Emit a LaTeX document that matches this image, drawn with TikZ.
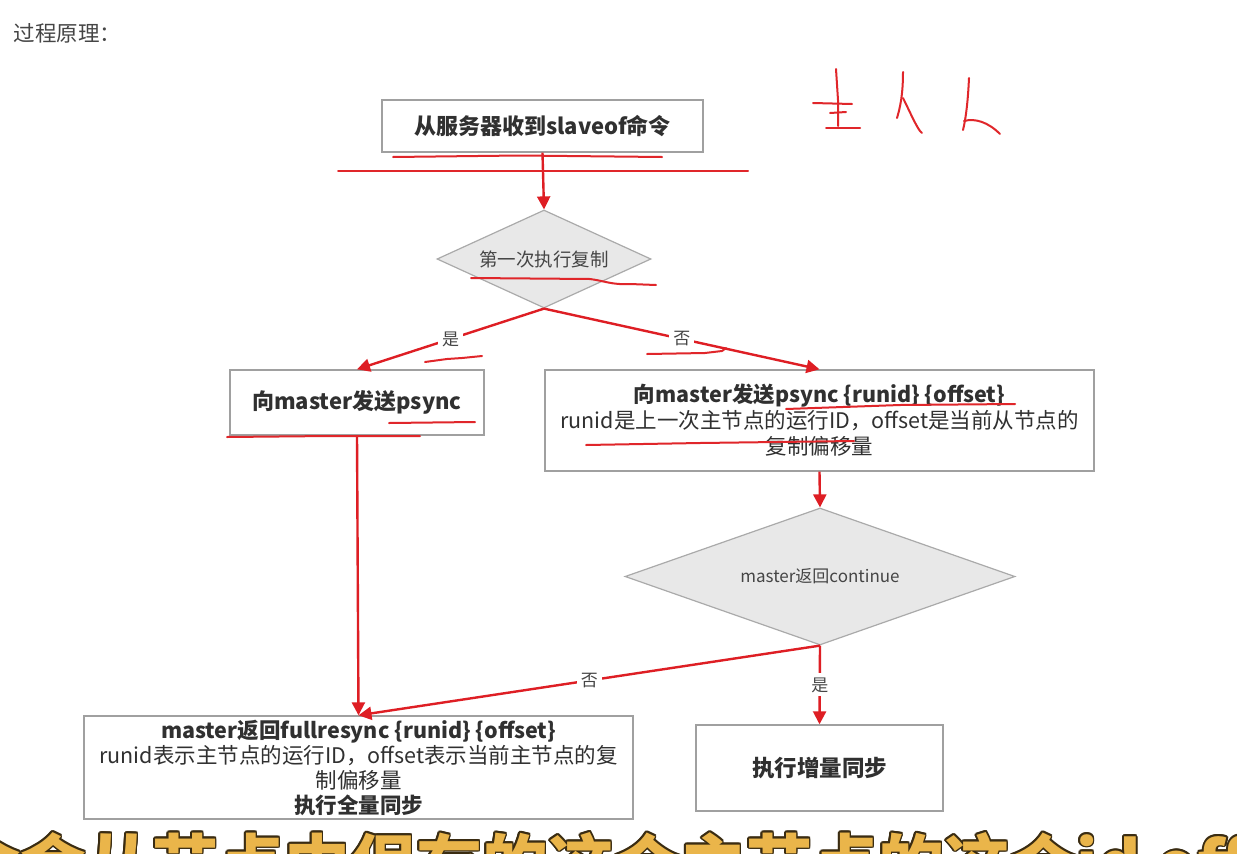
\documentclass[tikz,border=0pt]{standalone}
\usepackage{fontspec}
\setmainfont{Noto Sans CJK SC}
\usetikzlibrary{arrows.meta,shapes.geometric}

\definecolor{flowred}{HTML}{DE1E24}
\definecolor{inkred}{HTML}{E0262A}
\definecolor{boxline}{HTML}{A0A0A0}
\definecolor{diafill}{HTML}{E8E8E8}
\definecolor{dialine}{HTML}{AAAAAA}
\definecolor{txtdark}{HTML}{303030}
\definecolor{txtmid}{HTML}{454545}
\definecolor{subfill}{HTML}{EAB54A}
\definecolor{subedge}{HTML}{3A2C12}

\tikzset{
  box/.style={draw=boxline, line width=1.4pt, fill=white, inner sep=0pt,
    align=center, text=txtdark},
  decision/.style={diamond, aspect=2, draw=dialine, line width=1.2pt,
    fill=diafill, inner sep=0pt, text=txtmid},
  flow/.style={draw=flowred, line width=2.4pt,
    -{Triangle[length=13pt,width=13pt]}},
  lbl/.style={fill=white, inner sep=4pt, text=txtmid,
    font=\fontsize{17}{19}\selectfont},
  ink/.style={draw=inkred, line width=2pt, line cap=round, line join=round},
}

\begin{document}
\begin{tikzpicture}[x=1pt, y=-1pt]
\useasboundingbox (0,0) rectangle (1237,854);
\clip (0,0) rectangle (1237,854);
\fill[white] (0,0) rectangle (1237,854);

% heading
\node[anchor=west, text=txtmid, font=\fontsize{21.5}{24}\selectfont]
  (title) at (10,33) {过程原理：};

% boxes
\node[box, minimum width=321, minimum height=52,
  font=\fontsize{22}{24}\selectfont\bfseries]
  (b1) at (542.5,126) {从服务器收到slaveof命令};
\node[decision, minimum width=214, minimum height=98,
  font=\fontsize{18.5}{20}\selectfont]
  (d1) at (544,259) {第一次执行复制};
\node[box, minimum width=254, minimum height=65,
  font=\fontsize{22}{24}\selectfont\bfseries]
  (b2) at (357,402.5) {向master发送psync};
\node[box, minimum width=549, minimum height=101,
  font=\fontsize{21.5}{26}\selectfont]
  (b3) at (819.5,420.5)
  {\textbf{向master发送psync \{runid\} \{offset\}}\\
   runid是上一次主节点的运行ID，offset是当前从节点的\\
   复制偏移量};
\node[decision, minimum width=390, minimum height=137,
  font=\fontsize{17}{20}\selectfont]
  (d2) at (820,576.5) {master返回continue};
\node[box, minimum width=549, minimum height=103,
  font=\fontsize{21.5}{25}\selectfont]
  (b4) at (358.5,767.5)
  {\textbf{master返回fullresync \{runid\} \{offset\}}\\
   runid表示主节点的运行ID，offset表示当前主节点的复\\
   制偏移量\\
   \textbf{执行全量同步}};
\node[box, minimum width=247, minimum height=86,
  font=\fontsize{22.5}{24}\selectfont\bfseries]
  (b5) at (819.5,768) {执行增量同步};

% connectors
\draw[flow] (b1.south) -- (d1.north);
\draw[flow] (d1.south) -- node[lbl] (l1) {是} (b2.north);
\draw[flow] (d1.south) -- node[lbl] (l2) {否} (b3.north);
\draw[flow] (b3.south) -- (d2.north);
\draw[flow] (b2.south) -- (b4.north);
\draw[flow] (d2.south) -- node[lbl] (l3) {否} (b4.north);
\draw[flow] (d2.south) -- node[lbl] (l4) {是} (b5.north);

% red pen marks
\draw[ink] (393,157) -- (520,155.5) -- (662,157);
\draw[ink] (338,171) -- (748,171);
\draw[ink] (471,278) -- (590,279) .. controls (605,281) and (612,285) .. (630,284) -- (656,285);
\draw[ink] (425,362) -- (447,359) -- (462,358) -- (482,356);
\draw[ink] (647,354) -- (705,353) -- (722,351) -- (726,348);
\draw[ink] (389,423) -- (475,422);
\draw[ink] (227,437) -- (330,436) -- (420,436);
\draw[ink] (786,409) -- (900,405) -- (1015,404);
\draw[ink] (586,445) -- (700,443) -- (854,441);
% handwritten glyphs at top right
\draw[ink] (836,69) -- (838,100) -- (838,126);
\draw[ink] (813,103) -- (852,104);
\draw[ink] (830,113) -- (846,112);
\draw[ink] (826,128) -- (860,128);
\draw[ink] (903,72) .. controls (903,95) and (900,108) .. (897,118);
\draw[ink] (903,98) .. controls (910,112) and (915,124) .. (920,131) -- (922,133);
\draw[ink] (969,78) .. controls (968,100) and (966,118) .. (963,130);
\draw[ink] (964,121) .. controls (975,118) and (988,122) .. (1000,134);

% caption strip at the bottom
\foreach \a in {0,30,...,330}{
  \node[anchor=base west, inner sep=0pt, text=subedge,
    font=\fontsize{66}{70}\selectfont\bfseries]
    at ([shift={(\a:1.8)}] -46,889) {令会从节点中保存的这个主节点的这个id off};
}
\node[anchor=base west, inner sep=0pt, text=subfill,
  font=\fontsize{66}{70}\selectfont\bfseries]
  (caption) at (-46,889) {令会从节点中保存的这个主节点的这个id off};
\end{tikzpicture}
\end{document}
